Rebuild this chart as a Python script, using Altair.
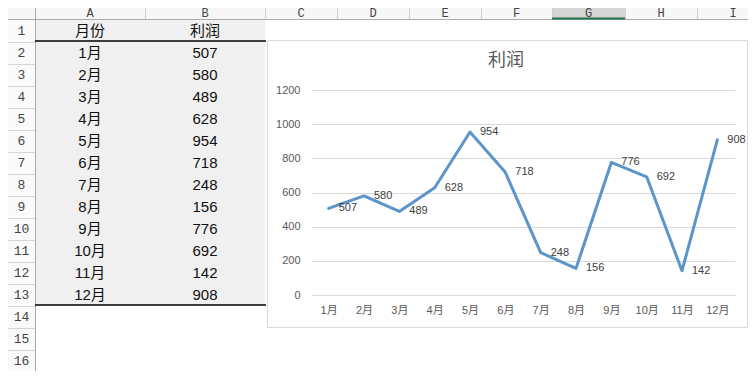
import altair as alt
import pandas as pd

# ---------------- data ----------------
months = ["1月", "2月", "3月", "4月", "5月", "6月", "7月", "8月", "9月", "10月", "11月", "12月"]
profit = [507, 580, 489, 628, 954, 718, 248, 156, 776, 692, 142, 908]
y_ticks = [0, 200, 400, 600, 800, 1000, 1200]
header = ["月份", "利润"]
col_letters = ["A", "B", "C", "D", "E", "F", "G", "H", "I"]
row_numbers = list(range(1, 17))
chart_title = "利润"

# ---------------- layout (pixels of the 740x363 canvas) ----------------
W, H = 740, 363
PL, PT, PW, PH = 303, 82, 424, 205          # plot area of the line chart
col_edges = [27, 137, 257, 329, 401, 473, 544, 617, 689, 761]
ROW1, ROWH = 23, 22
HEADER_H = 11
TABLE_BOTTOM = 297
BOX = (259, 739, 32, 319)
TITLE_POS = (498, 53)

FONT = "Liberation Sans, Noto Sans CJK SC"
CJK = "Noto Sans CJK SC, Liberation Sans"
MONO = "Liberation Mono, DejaVu Sans Mono"
GRID = "#D9D9D9"
LABEL = "#595959"
LINE = "#5B95C9"

px = alt.Scale(domain=[0, W], range=[-PL, W - PL], zero=False, nice=False)
py = alt.Scale(domain=[0, H], range=[-PT, H - PT], zero=False, nice=False)
prow = alt.Scale(domain=[1, 16], range=[ROW1 - PT, ROW1 + 15 * ROWH - PT], zero=False, nice=False)

centers = [(a + b) / 2 for a, b in zip(col_edges[:-1], col_edges[1:])]

# ---------------- spreadsheet chrome ----------------
rects = pd.DataFrame([
    dict(x=0, x2=W, y=0, y2=HEADER_H, fill="#F7F7F7"),
    dict(x=0, x2=col_edges[0], y=HEADER_H, y2=H, fill="#FAFAFA"),
    dict(x=col_edges[6], x2=col_edges[7], y=0, y2=HEADER_H, fill="#D6D6D6"),
    dict(x=col_edges[0], x2=col_edges[2], y=HEADER_H + 1, y2=TABLE_BOTTOM, fill="#F0F0F0"),
])
rect_layer = alt.Chart(rects).mark_rect().encode(
    x=alt.X("x:Q", scale=px, axis=None), x2="x2:Q",
    y=alt.Y("y:Q", scale=py, axis=None), y2="y2:Q",
    fill=alt.Fill("fill:N", scale=None),
)

rules = [dict(x=0, x2=W, y=HEADER_H + 0.5, y2=HEADER_H + 0.5, c="#ABABAB", w=1),
         dict(x=col_edges[0] + 0.5, x2=col_edges[0] + 0.5, y=0, y2=H, c="#ABABAB", w=1)]
for e in col_edges[1:]:
    rules.append(dict(x=e + 0.5, x2=e + 0.5, y=0, y2=HEADER_H, c="#D0D0D0", w=1))
for k in range(1, 17):
    yy = HEADER_H + 1 + k * ROWH + 0.5
    rules.append(dict(x=0, x2=col_edges[0], y=yy, y2=yy, c="#D4D4D4", w=1))
rules.append(dict(x=col_edges[6], x2=col_edges[7], y=HEADER_H - 0.5, y2=HEADER_H - 0.5, c="#217346", w=2))
rules.append(dict(x=col_edges[0], x2=col_edges[2] + 1, y=33, y2=33, c="#000000", w=1.5))
rules.append(dict(x=col_edges[0], x2=col_edges[2] + 1, y=TABLE_BOTTOM, y2=TABLE_BOTTOM, c="#000000", w=1.5))
rule_layer = alt.Chart(pd.DataFrame(rules)).mark_rule().encode(
    x=alt.X("x:Q", scale=px, axis=None), x2="x2:Q",
    y=alt.Y("y:Q", scale=py, axis=None), y2="y2:Q",
    color=alt.Color("c:N", scale=None),
    strokeWidth=alt.StrokeWidth("w:Q", scale=None),
)

box_layer = alt.Chart(pd.DataFrame([dict(x=BOX[0] + 0.5, x2=BOX[1] + 0.5, y=BOX[2] + 0.5, y2=BOX[3] + 0.5)])).mark_rect(
    fill="transparent", stroke="#D9D9D9", strokeWidth=1
).encode(
    x=alt.X("x:Q", scale=px, axis=None), x2="x2:Q",
    y=alt.Y("y:Q", scale=py, axis=None), y2="y2:Q",
)

title_layer = alt.Chart(pd.DataFrame([dict(x=TITLE_POS[0], y=TITLE_POS[1], t=chart_title)])).mark_text(
    font=CJK, fontSize=18, color=LABEL, baseline="middle", align="center"
).encode(
    x=alt.X("x:Q", scale=px, axis=None),
    y=alt.Y("y:Q", scale=py, axis=None),
    text="t:N",
)

letters_df = pd.DataFrame({"letter": col_letters, "cx": centers[:len(col_letters)]})
letters_layer = alt.Chart(letters_df).mark_text(
    font=MONO, fontSize=12, color="#444444", baseline="middle", align="center"
).encode(
    x=alt.X("cx:Q", scale=px, axis=None),
    y=alt.value(4.5 - PT),
    text="letter:N",
)

rows_df = pd.DataFrame({"row": row_numbers, "label": [str(r) for r in row_numbers]})
rownum_layer = alt.Chart(rows_df).mark_text(
    font=MONO, fontSize=13, color="#444444", baseline="middle", align="center"
).encode(
    x=alt.value(13.5 - PL),
    y=alt.Y("row:Q", scale=prow, axis=None),
    text="label:N",
)

cells = [dict(row=1, cx=centers[0], label=header[0]), dict(row=1, cx=centers[1], label=header[1])]
for i, (m, v) in enumerate(zip(months, profit)):
    cells.append(dict(row=i + 2, cx=centers[0], label=m))
    cells.append(dict(row=i + 2, cx=centers[1], label=str(v)))
table_layer = alt.Chart(pd.DataFrame(cells)).mark_text(
    font=FONT, fontSize=15, color="#111111", baseline="middle", align="center"
).encode(
    x=alt.X("cx:Q", scale=px, axis=None),
    y=alt.Y("row:Q", scale=prow, axis=None),
    text="label:N",
)

# ---------------- line chart ----------------
df = pd.DataFrame({"month": months, "profit": profit})
xenc = alt.X(
    "month:N", sort=months,
    scale=alt.Scale(type="point", padding=0.5),
    axis=alt.Axis(title=None, orient="bottom", labelAngle=0, domain=False, ticks=False, grid=False,
                  labelPadding=9, labelFontSize=11, labelColor=LABEL, labelFont=FONT),
)
yenc = alt.Y(
    "profit:Q",
    scale=alt.Scale(domain=[0, 1200], nice=False, zero=True),
    axis=alt.Axis(title=None, orient="left", values=y_ticks, format="d", domain=False, ticks=False,
                  grid=True, gridColor=GRID, gridWidth=1, labelPadding=11, labelFontSize=11,
                  labelColor=LABEL, labelFont=FONT),
)
line = alt.Chart(df).mark_line(color=LINE, strokeWidth=3, strokeJoin="round", strokeCap="round").encode(
    x=xenc, y=yenc
)
labels = alt.Chart(df).mark_text(
    align="left", baseline="middle", dx=10, fontSize=11, color="#404040", font=FONT
).encode(x=xenc, y=yenc, text="profit:Q")
main = alt.layer(line, labels)

chart = alt.layer(
    rect_layer, rule_layer, box_layer, title_layer, letters_layer, rownum_layer, table_layer, main
).resolve_scale(
    x="independent", y="independent"
).properties(
    width=PW, height=PH,
    padding={"left": PL, "top": PT, "right": W - PL - PW, "bottom": H - PT - PH},
    autosize=alt.AutoSizeParams(type="none"),
    background="white",
).configure_view(strokeWidth=0)

chart.save("out.html", embed_options={"renderer": "svg", "actions": False})
